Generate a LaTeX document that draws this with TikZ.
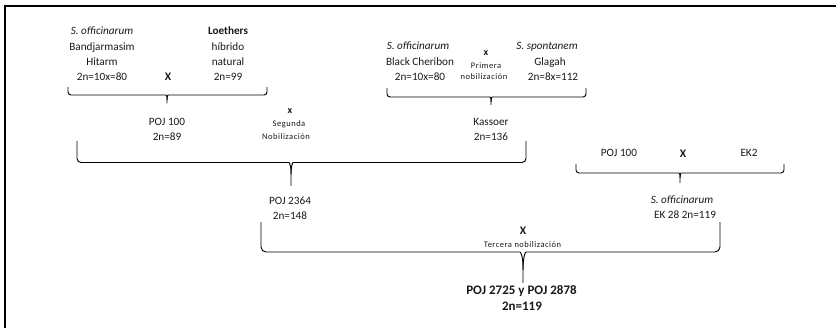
\documentclass[tikz,border=0pt]{standalone}
\usepackage{fontspec}
\setmainfont{Carlito}
\newfontfamily\smallfam[LetterSpace=6]{Carlito}
\usetikzlibrary{calc}
% #1 left end, #2 right end, #3 cusp point, #4 stem end, #5 corner radius, #6 cusp half width, #7 cusp height
\newcommand\drawbrace[7]{%
 \draw[bracel,rounded corners=#5pt] (#1) |- ($(#3)+(-#6,0)$) .. controls ($(#3)+(-0.25*#6,0)$) and ($(#3)+(0,0.35*#7)$) .. ($(#3)+(0,#7)$) -- (#4);
 \draw[bracel,rounded corners=#5pt] (#2) |- ($(#3)+(#6,0)$) .. controls ($(#3)+(0.25*#6,0)$) and ($(#3)+(0,0.35*#7)$) .. ($(#3)+(0,#7)$);
}
\tikzset{
 txt/.style={font=\fontsize{11.2}{13}\selectfont, inner sep=0pt, anchor=base, text=black!90},
 txtb/.style={txt, font=\fontsize{11.2}{13}\selectfont\bfseries},
 txti/.style={txt, font=\fontsize{11.2}{13}\selectfont\itshape},
 cross/.style={txt, font=\fontsize{11.5}{13}\selectfont\bfseries},
 crosss/.style={txt, font=\fontsize{10}{11}\selectfont\bfseries},
 note/.style={txt, font=\fontsize{8.5}{9}\smallfam},
 final/.style={txt, font=\fontsize{13}{15}\selectfont\bfseries},
 bracel/.style={line width=0.95pt, draw=black},
 frame/.style={line width=2.3pt, draw=black}
}
\begin{document}
\begin{tikzpicture}[x=1pt,y=-1pt]
\useasboundingbox (0,0) rectangle (836,328);
\draw[frame] (5.2,328) -- (5.2,6.2) -- (836,6.2);

% Group A
\node[txti] (a1) at (102,34.8) {S. officinarum};
\node[txt]  (a2) at (102,50.3) {Bandjarmasim};
\node[txt]  (a3) at (102,65.6) {Hitarm};
\node[txt]  (a4) at (102,80.9) {2n=10x=80};
\node[cross] (ax) at (168,81) {X};
\node[txtb] (b1) at (228,34.8) {Loethers};
\node[txt]  (b2) at (228,50.3) {híbrido};
\node[txt]  (b3) at (228,65.6) {natural};
\node[txt]  (b4) at (228,80.9) {2n=99};
\coordinate (aL) at (68,87);
\coordinate (aR) at (267,87);
\coordinate (aC) at (167,95);
\coordinate (aS) at (167,103.5);
\drawbrace{aL}{aR}{aC}{aS}{3}{4}{5}
\node[txt] (p1) at (167,125.7) {POJ 100};
\node[txt] (p2) at (167,140.3) {2n=89};

% Segunda
\node[crosss] (sx) at (290,113.8) {x};
\node[note] (s1) at (289,127) {Segunda};
\node[note] (s2) at (286,140) {Nobilización};

% Group B
\node[txti] (c1) at (418,49.8) {S. officinarum};
\node[txt]  (c2) at (420,65.6) {Black Cheribon};
\node[txt]  (c3) at (420,80.6) {2n=10x=80};
\node[crosss] (cx) at (486,55.8) {x};
\node[note] (pr1) at (486,69) {Primera};
\node[note] (pr2) at (484,79.5) {nobilización};
\node[txti] (d1) at (547,49.8) {S. spontanem};
\node[txt]  (d2) at (550,65.6) {Glagah};
\node[txt]  (d3) at (553,80.6) {2n=8x=112};
\coordinate (bL) at (387,88);
\coordinate (bR) at (586,88);
\coordinate (bC) at (491,97);
\coordinate (bS) at (491,104.5);
\drawbrace{bL}{bR}{bC}{bS}{3}{4}{5}
\node[txt] (k1) at (491,125.7) {Kassoer};
\node[txt] (k2) at (491,140.3) {2n=136};

% Brace C
\coordinate (cL) at (77,141);
\coordinate (cR) at (526,141);
\coordinate (cC) at (291,162.5);
\coordinate (cS) at (291,186);
\drawbrace{cL}{cR}{cC}{cS}{4}{6}{12}
\node[txt] (q1) at (290,204.5) {POJ 2364};
\node[txt] (q2) at (290,219.5) {2n=148};

% Group D
\node[txt] (e1) at (619,157) {POJ 100};
\node[cross] (ex) at (683,157.3) {X};
\node[txt] (e2) at (749,157) {EK2};
\coordinate (dL) at (576,164);
\coordinate (dR) at (784,164);
\coordinate (dC) at (680,173);
\coordinate (dS) at (680,183);
\drawbrace{dL}{dR}{dC}{dS}{3}{4}{5}
\node[txti] (f1) at (682,204) {S. officinarum};
\node[txt]  (f2) at (685,219) {EK 28 2n=119};

% Brace E
\node[cross] (tx) at (523,235) {X};
\node[note] (t1) at (522.5,247.5) {Tercera nobilización};
\coordinate (eL) at (261,222);
\coordinate (eR) at (720,222);
\coordinate (eC) at (523,252);
\coordinate (eS) at (523,283);
\drawbrace{eL}{eR}{eC}{eS}{5}{8}{18}
\node[final] (g1) at (521.5,295) {POJ 2725 y POJ 2878};
\node[final] (g2) at (522,311) {2n=119};
\end{tikzpicture}
\end{document}
